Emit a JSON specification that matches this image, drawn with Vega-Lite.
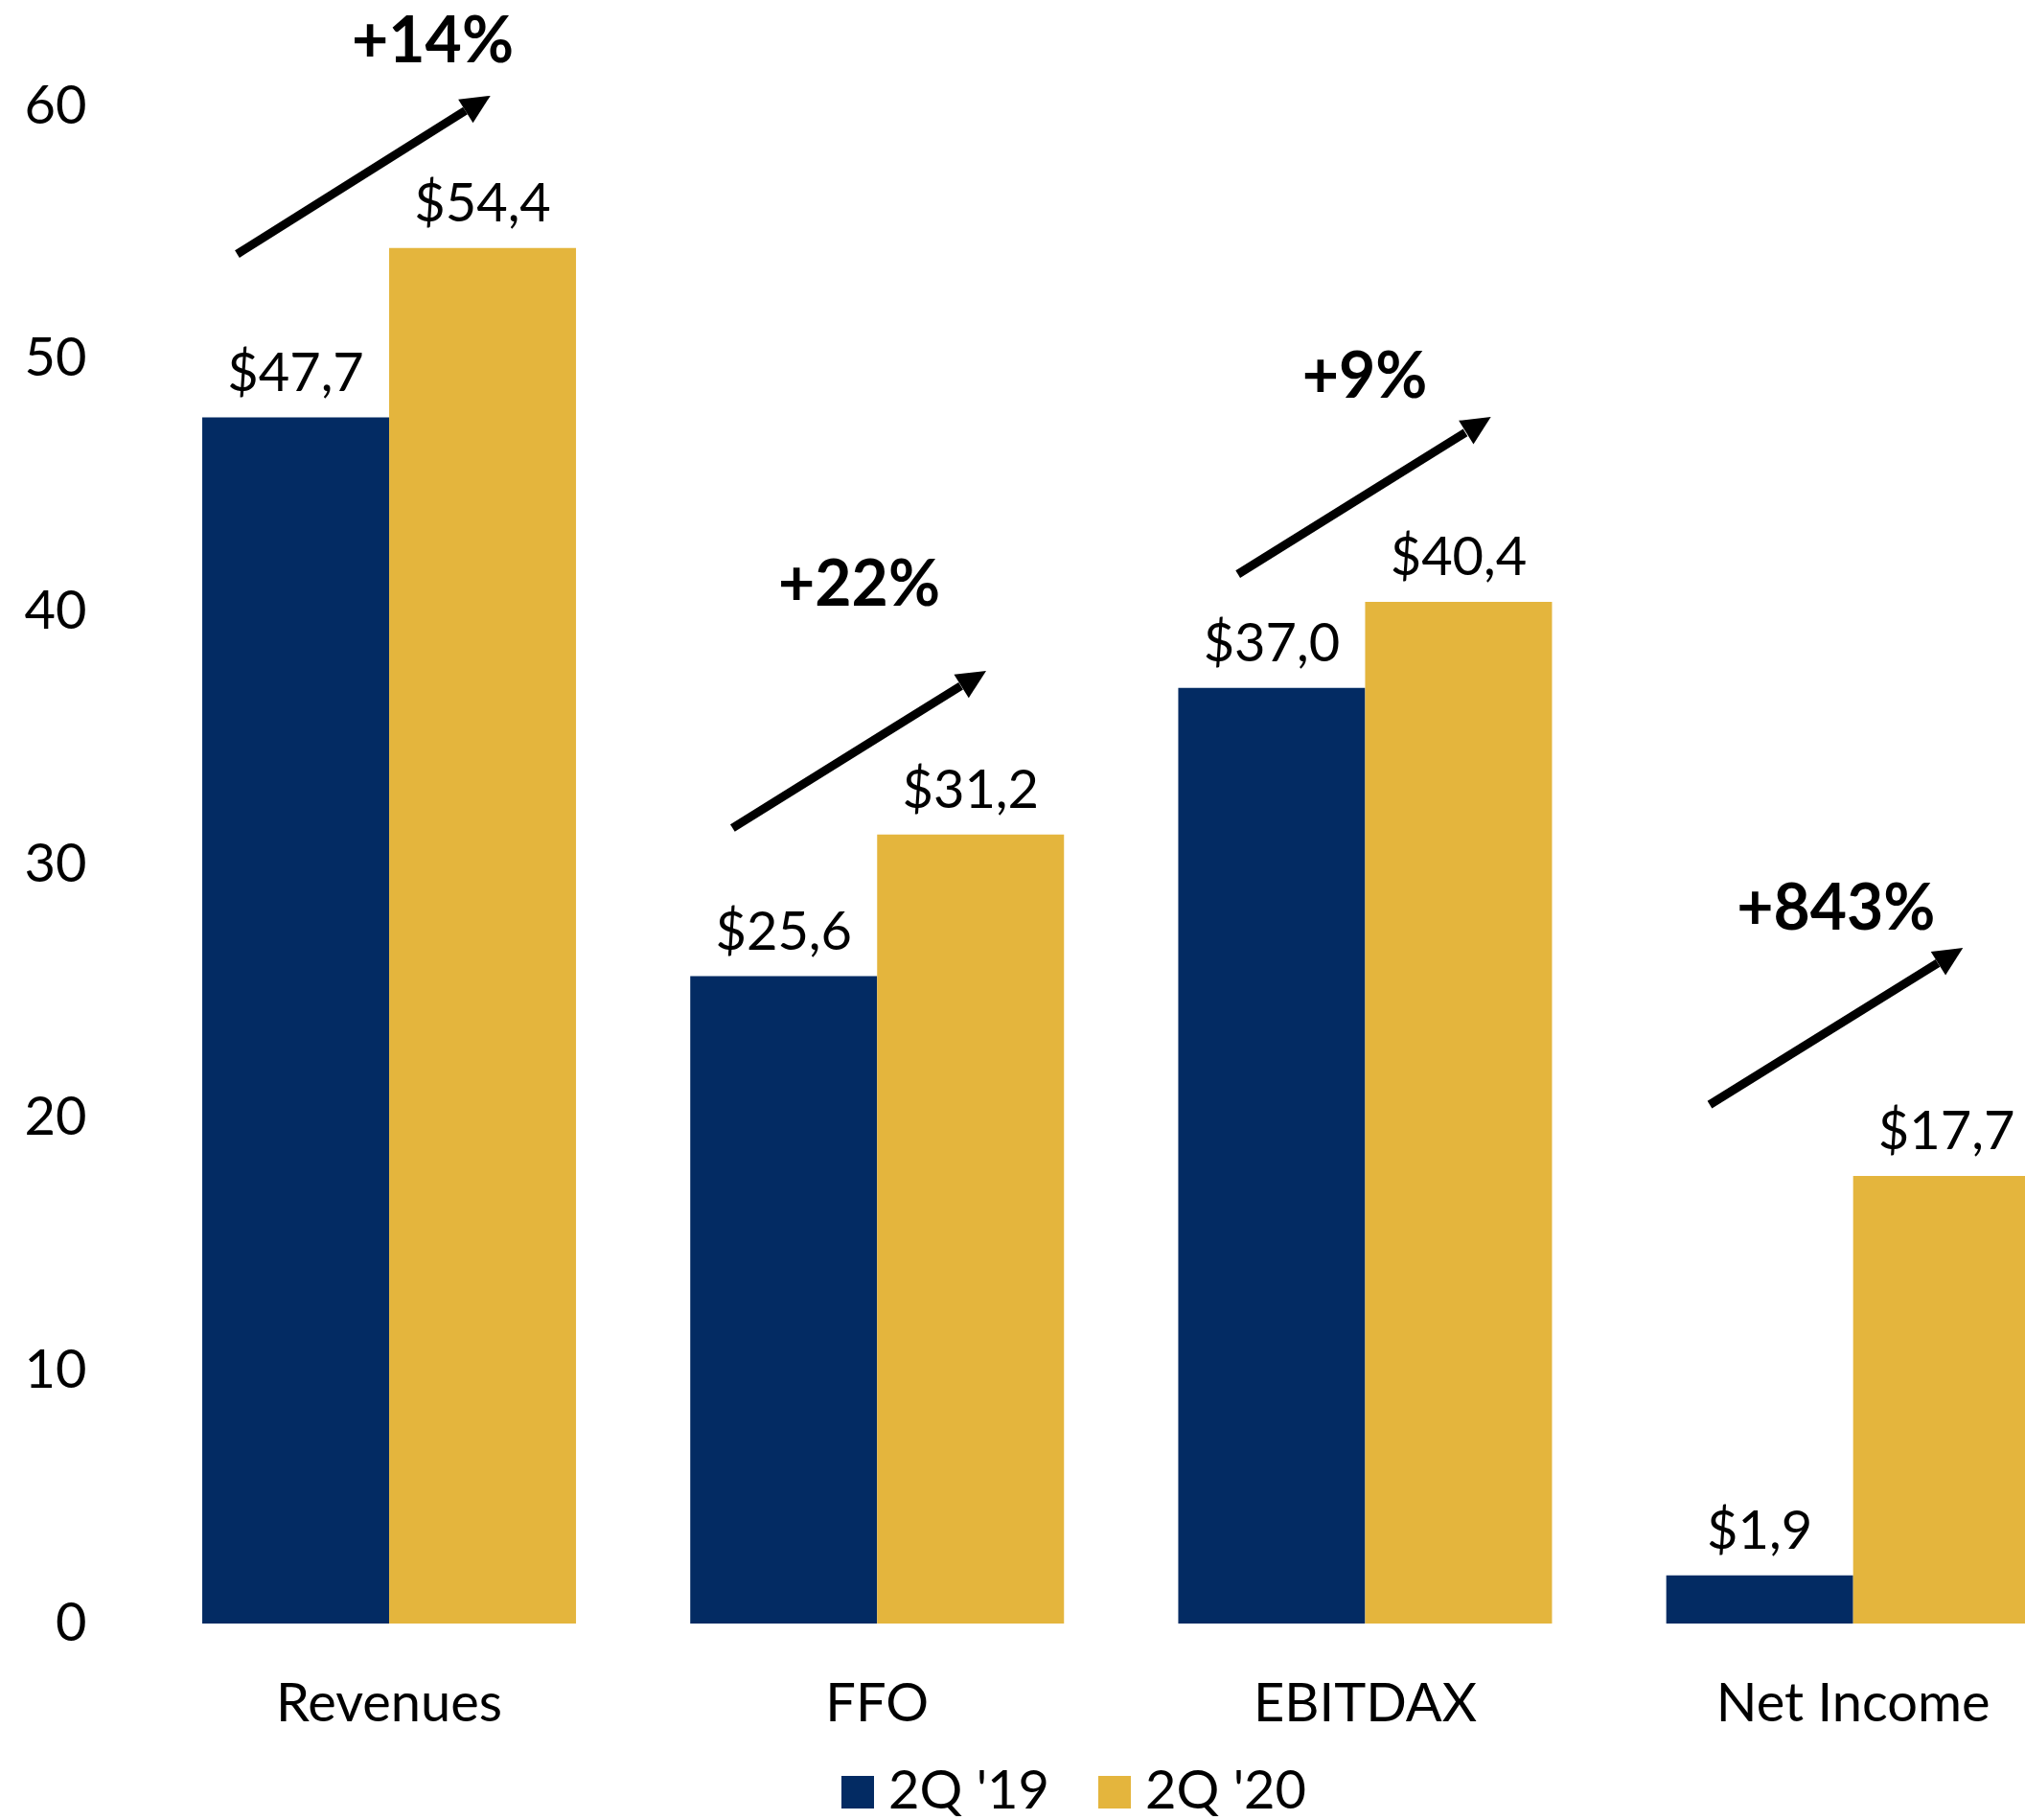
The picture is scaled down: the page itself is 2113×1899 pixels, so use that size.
{
  "$schema": "https://vega.github.io/schema/vega-lite/v6.json",
  "autosize": {"type": "none"},
  "width": 2003,
  "height": 1583,
  "padding": {"left": 110, "top": 111, "right": 0, "bottom": 205},
  "background": "white",
  "config": {
    "view": {"stroke": null},
    "font": "Lato",
    "axis": {"labelFont": "Lato", "labelColor": "black", "grid": false, "domain": false, "ticks": false, "tickSize": 0, "labelLimit": 800},
    "legend": {"labelFont": "Lato"}
  },
  "datasets": {
    "bars": [
      {"metric": "Revenues", "period": "2Q '19", "value": 47.7, "label": "$47,7"},
      {"metric": "Revenues", "period": "2Q '20", "value": 54.4, "label": "$54,4"},
      {"metric": "FFO", "period": "2Q '19", "value": 25.6, "label": "$25,6"},
      {"metric": "FFO", "period": "2Q '20", "value": 31.2, "label": "$31,2"},
      {"metric": "EBITDAX", "period": "2Q '19", "value": 37.0, "label": "$37,0"},
      {"metric": "EBITDAX", "period": "2Q '20", "value": 40.4, "label": "$40,4"},
      {"metric": "Net Income", "period": "2Q '19", "value": 1.9, "label": "$1,9"},
      {"metric": "Net Income", "period": "2Q '20", "value": 17.7, "label": "$17,7"}
    ],
    "arrows": [
      {"metric": "Revenues", "pct": "+14%", "u0": -0.3113, "v0": 54.16, "ub": 0.1561, "vb": 59.83, "ut": 0.2076, "vt": 60.42, "uc": 0.0894, "vc": 61.74},
      {"metric": "FFO", "pct": "+22%", "u0": 0.7037, "v0": 31.46, "ub": 1.1715, "vb": 37.08, "ut": 1.2235, "vt": 37.68, "uc": 0.9633, "vc": 40.26},
      {"metric": "EBITDAX", "pct": "+9%", "u0": 1.7394, "v0": 41.50, "ub": 2.2054, "vb": 47.10, "ut": 2.2578, "vt": 47.72, "uc": 1.9992, "vc": 48.48},
      {"metric": "Net Income", "pct": "+843%", "u0": 2.7062, "v0": 20.52, "ub": 3.1736, "vb": 26.12, "ut": 3.2252, "vt": 26.72, "uc": 2.9650, "vc": 27.44}
    ]
  },
  "layer": [
    {
      "data": {"name": "bars"},
      "encoding": {
        "x": {
          "field": "metric", "type": "nominal", "sort": ["Revenues", "FFO", "EBITDAX", "Net Income"],
          "scale": {"range": [0, 2119.7], "paddingInner": 0.2341, "paddingOuter": 0.1984},
          "axis": {"title": null, "labelAngle": 0, "labelFontSize": 56, "labelBaseline": "alphabetic", "labelPadding": 101, "labelFlush": false, "labelLimit": 800},
          "title": null
        },
        "xOffset": {"field": "period", "type": "nominal", "sort": ["2Q '19", "2Q '20"]},
        "y": {
          "field": "value", "type": "quantitative",
          "scale": {"domain": [0, 60], "nice": false, "zero": true},
          "axis": {"title": null, "values": [0, 10, 20, 30, 40, 50, 60], "labelFontSize": 56, "labelPadding": 20},
          "title": null
        }
      },
      "layer": [
        {
          "mark": {"type": "bar", "clip": true},
          "encoding": {
            "color": {
              "field": "period", "type": "nominal",
              "scale": {"domain": ["2Q '19", "2Q '20"], "range": ["#032B63", "#E4B53D"]},
              "legend": {
                "title": null, "orient": "none", "direction": "horizontal", "legendX": 757, "legendY": 1731,
                "symbolType": "square", "symbolSize": 1156, "symbolStrokeWidth": 0, "symbolOpacity": 1,
                "labelFontSize": 56, "labelColor": "black", "labelOffset": 4, "columnPadding": 39, "padding": 0, "labelLimit": 400
              }
            }
          }
        },
        {
          "mark": {"type": "text", "baseline": "alphabetic", "dy": -28, "fontSize": 56, "font": "Lato", "color": "black"},
          "encoding": {"text": {"field": "label"}}
        }
      ]
    },
    {
      "data": {"name": "arrows"},
      "layer": [
        {
          "mark": {"type": "rule", "strokeWidth": 9, "color": "black", "strokeCap": "butt"},
          "encoding": {
            "x": {"field": "u0", "type": "quantitative", "scale": {"domain": [-0.5813, 3.3523], "nice": false, "zero": false}, "axis": null},
            "x2": {"field": "ub"},
            "y": {"field": "v0", "type": "quantitative", "scale": {"domain": [0, 60], "nice": false}},
            "y2": {"field": "vb"}
          }
        },
        {
          "mark": {"type": "point", "shape": "M0,0L-0.95,2L0.95,2Z", "size": 930, "filled": true, "color": "black", "opacity": 1, "angle": 58, "strokeWidth": 0},
          "encoding": {
            "x": {"field": "ut", "type": "quantitative", "scale": {"domain": [-0.5813, 3.3523], "nice": false, "zero": false}, "axis": null},
            "y": {"field": "vt", "type": "quantitative", "scale": {"domain": [0, 60], "nice": false}}
          }
        },
        {
          "mark": {"type": "text", "baseline": "alphabetic", "align": "center", "fontSize": 66, "fontWeight": "bold", "font": "Lato", "color": "black"},
          "encoding": {
            "x": {"field": "uc", "type": "quantitative", "scale": {"domain": [-0.5813, 3.3523], "nice": false, "zero": false}, "axis": null},
            "y": {"field": "vc", "type": "quantitative", "scale": {"domain": [0, 60], "nice": false}},
            "text": {"field": "pct"}
          }
        }
      ]
    }
  ],
  "resolve": {"scale": {"x": "independent"}}
}
